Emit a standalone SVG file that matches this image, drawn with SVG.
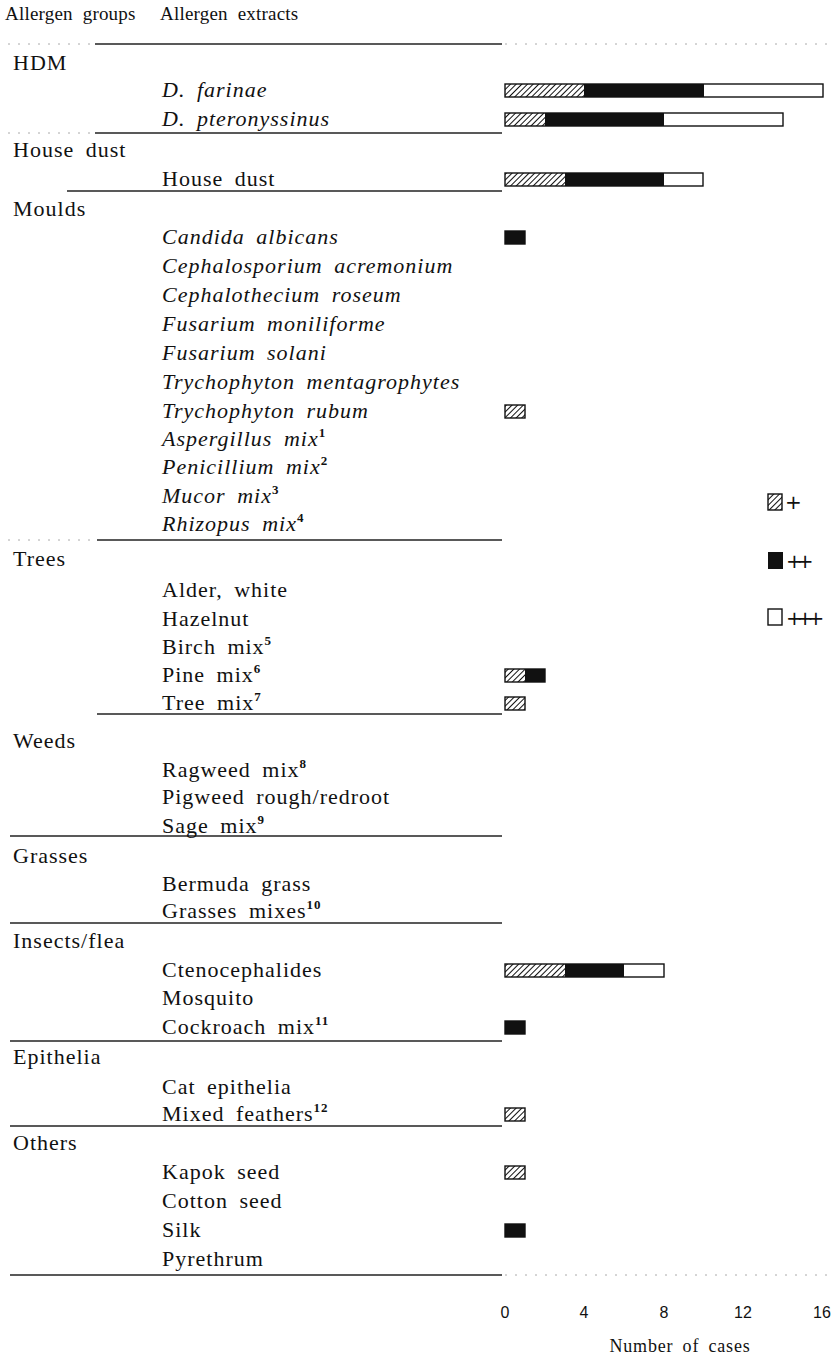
<svg xmlns="http://www.w3.org/2000/svg" width="834" height="1359" viewBox="0 0 834 1359">
<style>
.t{font-family:"Liberation Serif","Times New Roman",serif;font-size:22px;fill:#111;letter-spacing:1px;word-spacing:5px}
.h{font-size:19px;letter-spacing:0.2px;word-spacing:5px}
.i{font-style:italic}
.sup{font-size:13px;font-style:normal;font-weight:bold}
.ax{font-family:"Liberation Sans",Arial,sans-serif;font-size:16px;fill:#111;text-anchor:middle}
.sep{stroke:#222;stroke-width:1.4}
.dot{stroke:#aaa;stroke-width:1;stroke-dasharray:2 8}
.bb{fill:none;stroke:#111;stroke-width:1.4}
.blk{fill:#111}
.wht{fill:#fff}
.hat{fill:url(#hatch)}
.pl{font-family:"DejaVu Sans",sans-serif;font-size:20px;fill:#111}
</style>
<defs>
<pattern id="hatch" patternUnits="userSpaceOnUse" width="4" height="4" patternTransform="rotate(45)">
<rect width="4" height="4" fill="#fff"/>
<line x1="0" y1="0" x2="0" y2="4" stroke="#111" stroke-width="2"/>
</pattern>
</defs>
<rect width="834" height="1359" fill="#fff"/>

<g id="header">
<text class="t h" x="5" y="20">Allergen groups</text>
<text class="t h" x="160" y="20">Allergen extracts</text>
</g>

<g id="separators">
<line class="dot" x1="8" y1="44" x2="90" y2="44"/>
<line class="sep" x1="95" y1="44" x2="502" y2="44"/>
<line class="dot" x1="505" y1="44" x2="834" y2="44"/>
<line class="dot" x1="8" y1="133" x2="90" y2="133"/>
<line class="sep" x1="95" y1="133" x2="502" y2="133"/>
<line class="sep" x1="67" y1="191" x2="502" y2="191"/>
<line class="dot" x1="8" y1="540" x2="90" y2="540"/>
<line class="sep" x1="97" y1="540" x2="502" y2="540"/>
<line class="sep" x1="97" y1="714" x2="502" y2="714"/>
<line class="sep" x1="10" y1="836" x2="502" y2="836"/>
<line class="sep" x1="10" y1="923" x2="502" y2="923"/>
<line class="sep" x1="10" y1="1041" x2="502" y2="1041"/>
<line class="sep" x1="10" y1="1126" x2="502" y2="1126"/>
<line class="sep" x1="10" y1="1275" x2="502" y2="1275"/>
<line class="dot" x1="505" y1="1275" x2="834" y2="1275"/>
</g>

<g id="labels">
<text class="t" x="13" y="70">HDM</text>
<text class="t i" x="162" y="97">D. farinae</text>
<text class="t i" x="162" y="126">D. pteronyssinus</text>
<text class="t" x="13" y="157">House dust</text>
<text class="t" x="162" y="186">House dust</text>
<text class="t" x="13" y="216">Moulds</text>
<text class="t i" x="162" y="244">Candida albicans</text>
<text class="t i" x="162" y="273">Cephalosporium acremonium</text>
<text class="t i" x="162" y="302">Cephalothecium roseum</text>
<text class="t i" x="162" y="331">Fusarium moniliforme</text>
<text class="t i" x="162" y="360">Fusarium solani</text>
<text class="t i" x="162" y="389">Trychophyton mentagrophytes</text>
<text class="t i" x="162" y="418">Trychophyton rubum</text>
<text class="t i" x="162" y="446">Aspergillus mix<tspan class="sup" dy="-9">1</tspan></text>
<text class="t i" x="162" y="474">Penicillium mix<tspan class="sup" dy="-9">2</tspan></text>
<text class="t i" x="162" y="503">Mucor mix<tspan class="sup" dy="-9">3</tspan></text>
<text class="t i" x="162" y="531">Rhizopus mix<tspan class="sup" dy="-9">4</tspan></text>
<text class="t" x="13" y="566">Trees</text>
<text class="t" x="162" y="597">Alder, white</text>
<text class="t" x="162" y="626">Hazelnut</text>
<text class="t" x="162" y="654">Birch mix<tspan class="sup" dy="-9">5</tspan></text>
<text class="t" x="162" y="682">Pine mix<tspan class="sup" dy="-9">6</tspan></text>
<text class="t" x="162" y="710">Tree mix<tspan class="sup" dy="-9">7</tspan></text>
<text class="t" x="13" y="748">Weeds</text>
<text class="t" x="162" y="777">Ragweed mix<tspan class="sup" dy="-9">8</tspan></text>
<text class="t" x="162" y="804">Pigweed rough/redroot</text>
<text class="t" x="162" y="833">Sage mix<tspan class="sup" dy="-9">9</tspan></text>
<text class="t" x="13" y="863">Grasses</text>
<text class="t" x="162" y="891">Bermuda grass</text>
<text class="t" x="162" y="918">Grasses mixes<tspan class="sup" dy="-9">10</tspan></text>
<text class="t" x="13" y="948">Insects/flea</text>
<text class="t" x="162" y="977">Ctenocephalides</text>
<text class="t" x="162" y="1005">Mosquito</text>
<text class="t" x="162" y="1034">Cockroach mix<tspan class="sup" dy="-9">11</tspan></text>
<text class="t" x="13" y="1064">Epithelia</text>
<text class="t" x="162" y="1094">Cat epithelia</text>
<text class="t" x="162" y="1121">Mixed feathers<tspan class="sup" dy="-9">12</tspan></text>
<text class="t" x="13" y="1150">Others</text>
<text class="t" x="162" y="1179">Kapok seed</text>
<text class="t" x="162" y="1208">Cotton seed</text>
<text class="t" x="162" y="1237">Silk</text>
<text class="t" x="162" y="1266">Pyrethrum</text>
</g>

<g id="bars">
<g id="bar-dfarinae">
<rect class="hat" x="505" y="84" width="79" height="13"/><rect class="blk" x="584" y="84" width="120" height="13"/><rect class="wht" x="704" y="84" width="119" height="13"/><rect class="bb" x="505" y="84" width="318" height="13"/>
</g>
<g id="bar-dpter">
<rect class="hat" x="505" y="113" width="40" height="13"/><rect class="blk" x="545" y="113" width="119" height="13"/><rect class="wht" x="664" y="113" width="119" height="13"/><rect class="bb" x="505" y="113" width="278" height="13"/>
</g>
<g id="bar-housedust">
<rect class="hat" x="505" y="173" width="60" height="13"/><rect class="blk" x="565" y="173" width="99" height="13"/><rect class="wht" x="664" y="173" width="39" height="13"/><rect class="bb" x="505" y="173" width="198" height="13"/>
</g>
<g id="bar-candida"><rect class="blk" x="505" y="231" width="20" height="13"/><rect class="bb" x="505" y="231" width="20" height="13"/></g>
<g id="bar-rubum"><rect class="hat" x="505" y="405" width="20" height="13"/><rect class="bb" x="505" y="405" width="20" height="13"/></g>
<g id="bar-pine"><rect class="hat" x="505" y="669" width="20" height="13"/><rect class="blk" x="525" y="669" width="20" height="13"/><rect class="bb" x="505" y="669" width="40" height="13"/></g>
<g id="bar-treemix"><rect class="hat" x="505" y="697" width="20" height="13"/><rect class="bb" x="505" y="697" width="20" height="13"/></g>
<g id="bar-cteno">
<rect class="hat" x="505" y="964" width="60" height="13"/><rect class="blk" x="565" y="964" width="59" height="13"/><rect class="wht" x="624" y="964" width="40" height="13"/><rect class="bb" x="505" y="964" width="159" height="13"/>
</g>
<g id="bar-cockroach"><rect class="blk" x="505" y="1021" width="20" height="13"/><rect class="bb" x="505" y="1021" width="20" height="13"/></g>
<g id="bar-feathers"><rect class="hat" x="505" y="1108" width="20" height="13"/><rect class="bb" x="505" y="1108" width="20" height="13"/></g>
<g id="bar-kapok"><rect class="hat" x="505" y="1166" width="20" height="13"/><rect class="bb" x="505" y="1166" width="20" height="13"/></g>
<g id="bar-silk"><rect class="blk" x="505" y="1224" width="20" height="13"/><rect class="bb" x="505" y="1224" width="20" height="13"/></g>
</g>

<g id="legend">
<g id="legend-plus"><rect class="hat" x="768" y="494" width="14" height="16"/><rect class="bb" x="768" y="494" width="14" height="16"/>
<text class="pl" x="785" y="509">+</text></g>
<g id="legend-plusplus"><rect class="blk" x="768" y="552" width="15" height="17"/>
<text class="pl" x="786" y="568" style="letter-spacing:-6px">++</text></g>
<g id="legend-plusplusplus"><rect class="bb" x="768" y="609" width="14" height="16"/>
<text class="pl" x="786" y="625" style="letter-spacing:-6px">+++</text></g>
</g>

<g id="axis">
<text class="ax" x="505" y="1318">0</text>
<text class="ax" x="584" y="1318">4</text>
<text class="ax" x="664" y="1318">8</text>
<text class="ax" x="743" y="1318">12</text>
<text class="ax" x="822" y="1318">16</text>
<text class="t" x="680" y="1352" text-anchor="middle" style="font-size:18px;letter-spacing:0.8px;word-spacing:4px">Number of cases</text>
</g>
</svg>
